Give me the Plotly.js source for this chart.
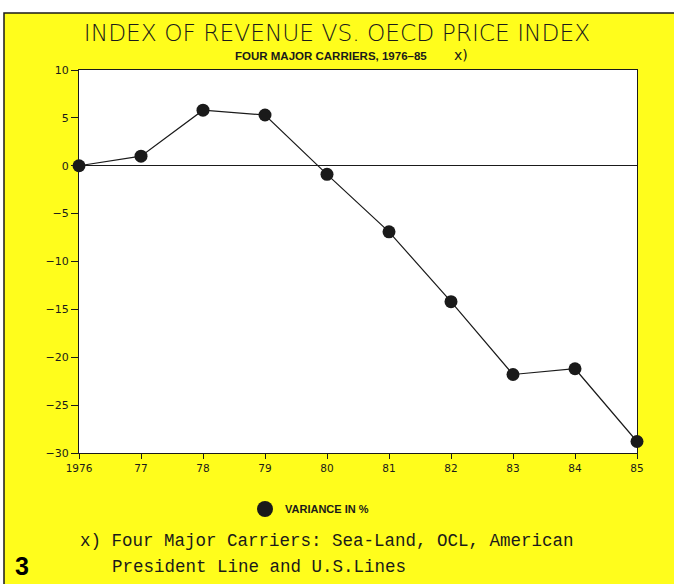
<!DOCTYPE html>
<html>
<head>
<meta charset="utf-8">
<script src="https://cdn.plot.ly/plotly-3.0.1.min.js"></script>
<style>
  html, body { margin: 0; padding: 0; background: #ffffff; }
  #chart { width: 674px; height: 584px; }
</style>
</head>
<body>
<div id="chart"></div>
<script>
// ---- data ----
var years = [1976, 1977, 1978, 1979, 1980, 1981, 1982, 1983, 1984, 1985];
var variance = [0, 1.0, 5.8, 5.3, -0.9, -6.9, -14.2, -21.8, -21.2, -28.8];
var xTickLabels = ["1976", "77", "78", "79", "80", "81", "82", "83", "84", "85"];
var yTickVals = [10, 5, 0, -5, -10, -15, -20, -25, -30];
var seriesName = "VARIANCE IN %";
var titleText = "INDEX OF REVENUE VS. OECD PRICE INDEX";
var subtitleText = "FOUR MAJOR CARRIERS, 1976–85";
var footLine1 = "x) Four Major Carriers: Sea-Land, OCL, American";
var footLine2 = "President Line and U.S.Lines";

// ---- geometry (pixels) ----
var W = 674, H = 584;
var L = 79, R = 37, T = 70, B = 131;
var pw = W - L - R, ph = H - T - B;
function px(x) { return (x - L) / pw; }
function py(y) { return (H - B - y) / ph; }

var YELLOW = "#fffd1c";
var INK = "#1a1a1a";

var traces = [
  {
    x: years, y: variance,
    type: "scatter", mode: "lines+markers",
    line: { color: INK, width: 1.2 },
    marker: { color: INK, size: 13 },
    cliponaxis: false,
    showlegend: false,
    hoverinfo: "x+y"
  },
  {
    x: [null], y: [null],
    type: "scatter", mode: "markers",
    name: seriesName,
    marker: { color: INK, size: 16 },
    showlegend: true
  }
];

var layout = {
  width: W, height: H,
  margin: { l: L, r: R, t: T, b: B, pad: 0 },
  paper_bgcolor: "#ffffff",
  plot_bgcolor: "rgba(0,0,0,0)",
  font: { family: "DejaVu Sans, sans-serif", color: INK },
  title: {
    text: titleText,
    font: { family: "DejaVu Sans, sans-serif", size: 23.3, weight: 200, color: INK },
    x: 0.5, xanchor: "center", xref: "container",
    y: 1 - 33 / H, yanchor: "middle", yref: "container"
  },
  xaxis: {
    range: [1976, 1985],
    tickvals: years, ticktext: xTickLabels,
    ticks: "outside", ticklen: 5, tickwidth: 1, tickcolor: INK,
    showline: true, linecolor: INK, linewidth: 1, mirror: true,
    showgrid: false, zeroline: false,
    tickfont: { family: "DejaVu Sans, sans-serif", size: 10.5, color: INK }
  },
  yaxis: {
    range: [-30, 10],
    tickvals: yTickVals,
    ticks: "outside", ticklen: 7, tickwidth: 1, tickcolor: INK,
    showline: true, linecolor: INK, linewidth: 1, mirror: true,
    showgrid: false,
    zeroline: true, zerolinecolor: INK, zerolinewidth: 1,
    tickfont: { family: "DejaVu Sans, sans-serif", size: 11, color: INK }
  },
  showlegend: true,
  legend: {
    orientation: "h",
    x: px(245), xanchor: "left",
    y: py(509), yanchor: "middle",
    bgcolor: "rgba(0,0,0,0)",
    font: { family: "Liberation Sans, Arial, sans-serif", size: 11, weight: 700, color: INK },
    itemwidth: 30
  },
  shapes: [
    {
      type: "rect", xref: "paper", yref: "paper", layer: "below",
      x0: px(4), x1: px(W + 5), y0: py(H + 5), y1: py(13),
      fillcolor: YELLOW, line: { color: INK, width: 1.5 }
    },
    {
      type: "rect", xref: "paper", yref: "paper", layer: "below",
      x0: 0, x1: 1, y0: 0, y1: 1,
      fillcolor: "#ffffff", line: { width: 0 }
    }
  ],
  annotations: [
    {
      text: "<b>" + subtitleText + "</b>",
      xref: "paper", yref: "paper",
      x: px(233), xanchor: "left", y: py(56), yanchor: "middle",
      showarrow: false,
      font: { family: "Liberation Sans, Arial, sans-serif", size: 11.5, color: INK }
    },
    {
      text: "x)",
      xref: "paper", yref: "paper",
      x: px(452), xanchor: "left", y: py(55), yanchor: "middle",
      showarrow: false,
      font: { family: "DejaVu Sans, sans-serif", size: 14, color: INK }
    },
    {
      text: footLine1,
      xref: "paper", yref: "paper",
      x: px(78), xanchor: "left", y: py(541), yanchor: "middle",
      showarrow: false,
      font: { family: "Liberation Mono, Courier New, monospace", size: 17.5, color: INK }
    },
    {
      text: footLine2,
      xref: "paper", yref: "paper",
      x: px(110), xanchor: "left", y: py(567), yanchor: "middle",
      showarrow: false,
      font: { family: "Liberation Mono, Courier New, monospace", size: 17.5, color: INK }
    },
    {
      text: "<b>3</b>",
      xref: "paper", yref: "paper",
      x: px(13), xanchor: "left", y: py(566), yanchor: "middle",
      showarrow: false,
      font: { family: "Liberation Sans, Arial, sans-serif", size: 25, color: "#000000" }
    }
  ]
};

Plotly.newPlot("chart", traces, layout, { displayModeBar: false, staticPlot: true });
</script>
</body>
</html>
